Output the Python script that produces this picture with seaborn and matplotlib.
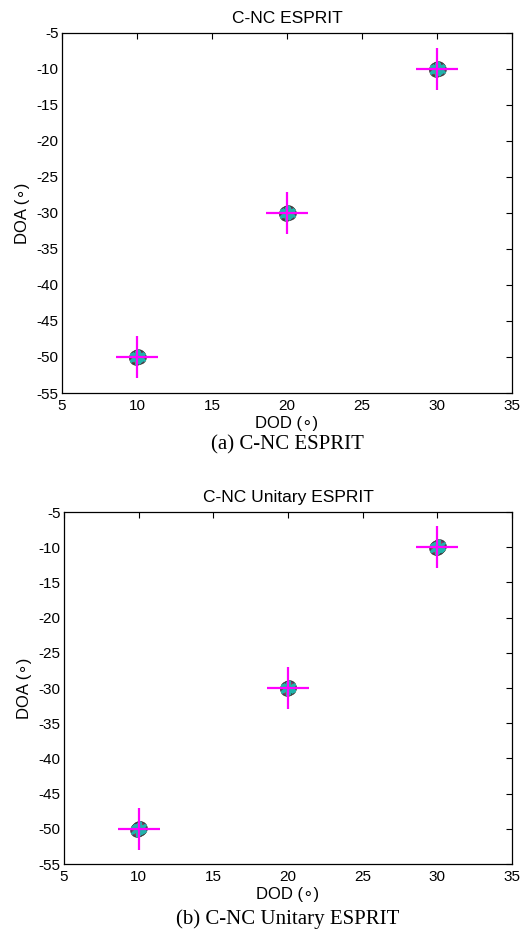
import matplotlib
matplotlib.use("Agg")
import matplotlib.pyplot as plt
import seaborn as sns
import pandas as pd

sns.set_style("white")
plt.rcParams['font.family'] = ['Liberation Sans', 'DejaVu Sans']
plt.rcParams['axes.unicode_minus'] = False
plt.rcParams['text.color'] = 'black'
plt.rcParams['axes.labelcolor'] = 'black'
plt.rcParams['xtick.color'] = 'black'
plt.rcParams['ytick.color'] = 'black'

# true target angles
true_dod = [10, 20, 30]
true_doa = [-50, -30, -10]

# estimated angles (read off the cluster around each target)
est_dod_a = [9.95, 10.05, 10.0, 9.9, 10.1, 19.95, 20.05, 20.0, 19.9, 20.1, 29.95, 30.05, 30.0, 29.9, 30.1]
est_doa_a = [-50.1, -49.9, -50.0, -50.05, -49.95, -30.1, -29.9, -30.0, -29.95, -30.05, -10.1, -9.9, -10.0, -10.05, -9.95]
est_dod_b = [9.95, 10.05, 10.0, 9.9, 10.1, 19.95, 20.05, 20.0, 19.9, 20.1, 29.95, 30.05, 30.0, 29.9, 30.1]
est_doa_b = [-50.05, -49.95, -50.0, -50.1, -49.9, -30.05, -29.95, -30.0, -30.1, -29.9, -10.05, -9.95, -10.0, -10.1, -9.9]

xticks = [5, 10, 15, 20, 25, 30, 35]
yticks = [-55, -50, -45, -40, -35, -30, -25, -20, -15, -10, -5]

titles = ["C-NC ESPRIT", "C-NC Unitary ESPRIT"]
captions = ["(a) C-NC ESPRIT", "(b) C-NC Unitary ESPRIT"]

W, H = 525, 930
fig = plt.figure(figsize=(W / 100, H / 100), dpi=100)
# pixel boxes: (left, top, right, bottom)
boxes = [(62, 33, 512, 393), (64, 512, 512, 864)]
caption_y = [445, 919]

for k, (box, dx, dy) in enumerate(zip(boxes, [est_dod_a, est_dod_b], [est_doa_a, est_doa_b])):
    l, t, r, b = box
    ax = fig.add_axes([l / W, 1 - b / H, (r - l) / W, (b - t) / H])
    df = pd.DataFrame({"DOD": dx, "DOA": dy})
    sns.scatterplot(data=df, x="DOD", y="DOA", ax=ax, marker="o", s=90,
                    color="#6a3d7a", edgecolor="#444444", linewidth=1.0, zorder=2)
    sns.scatterplot(data=df, x="DOD", y="DOA", ax=ax, marker="o", s=40,
                    color="#c04040", edgecolor="#c04040", linewidth=0.5, zorder=3, alpha=0.7)
    sns.scatterplot(data=df, x="DOD", y="DOA", ax=ax, marker=(6, 2, 0), s=70,
                    color="#20b2aa", linewidth=1.6, zorder=4)
    tdf = pd.DataFrame({"DOD": true_dod, "DOA": true_doa})
    sns.scatterplot(data=tdf, x="DOD", y="DOA", ax=ax, marker="+", s=900,
                    color="#ff00ff", linewidth=1.6, zorder=5)
    ax.set_xlim(5, 35)
    ax.set_ylim(-55, -5)
    ax.set_xticks(xticks)
    ax.set_yticks(yticks)
    ax.tick_params(direction="in", top=True, right=True, length=4, width=0.8,
                   labelsize=11, colors="black")
    ax.tick_params(axis="x", pad=4.5)
    ax.tick_params(axis="y", pad=2.5)
    for s in ax.spines.values():
        s.set_color("black")
        s.set_linewidth(0.9)
    ax.set_xlabel("DOD (\u2218)", fontsize=12, labelpad=2)
    ax.set_ylabel("DOA (\u2218)", fontsize=12, labelpad=5)
    ax.set_title(titles[k], fontsize=12.5, pad=7)
    fig.text(0.5 * (l + r) / W, 1 - caption_y[k] / H, captions[k], ha="center", va="center",
             fontsize=15, family=["Liberation Serif", "DejaVu Serif"])

fig.savefig("out.png", dpi=100)
